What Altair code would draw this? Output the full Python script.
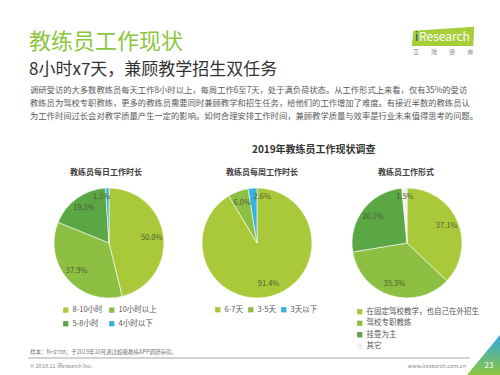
import altair as alt
import pandas as pd

FONT = "Noto Sans CJK SC"

# ---- data -------------------------------------------------------------
daily_cats = ["8-10小时", "10小时以上", "5-8小时", "4小时以下"]
daily_vals = [50.0, 37.9, 19.3, 1.1]

weekly_cats = ["6-7天", "3-5天", "3天以下"]
weekly_vals = [91.4, 6.0, 2.6]

form_cats = ["在固定驾校教学，也自己在外招生", "驾校专职教练", "挂靠为主", "其它"]
form_vals = [37.1, 35.3, 26.1, 1.5]

# ---- palette ----------------------------------------------------------
LIME = "#a9c93a"
GREEN = "#8cbf42"
DARK = "#5ba645"
CYAN = "#36b3dc"
daily_colors = [LIME, GREEN, DARK, CYAN]
weekly_colors = [LIME, GREEN, CYAN]
form_colors = [LIME, GREEN, DARK, "#f0f0f0"]

para_lines = [
    "调研受访的大多数教练员每天工作8小时以上，每周工作6至7天，处于满负荷状态。从工作形式上来看，仅有35%的受访",
    "教练员为驾校专职教练，更多的教练员需要同时兼顾教学和招生任务，给他们的工作增加了难度。有接近半数的教练员认",
    "为工作时间过长会对教学质量产生一定的影响。如何合理安排工作时间，兼顾教学质量与效率是行业未来值得思考的问题。",
]

one = pd.DataFrame({"k": [0]})


def text(t, x, y, size, color="#333333", weight="normal", align="left", **kw):
    return alt.Chart(one).mark_text(
        text=t, font=FONT, fontSize=size, color=color, fontWeight=weight,
        align=align, baseline="middle", **kw
    ).encode(x=alt.value(x), y=alt.value(y))


def pie(cats, vals, colors, cx, cy, legend, last_dx=0):
    """Arc layer plus percentage labels; the thin last slice gets a nudged label."""
    n = len(cats)
    df = pd.DataFrame({
        "cat": cats,
        "val": vals,
        "idx": list(range(n)),
        "label": [f"{v:.1f}%" for v in vals],
    })
    base = alt.Chart(df).encode(
        theta=alt.Theta("val:Q", stack=True),
        order=alt.Order("idx:Q"),
        x=alt.value(cx),
        y=alt.value(cy),
    )
    arcs = base.mark_arc(radius=55, stroke="white", strokeWidth=0.6).encode(
        color=alt.Color(
            "cat:N",
            scale=alt.Scale(domain=cats, range=colors),
            legend=legend,
        )
    )
    style = dict(font=FONT, fontSize=7.5, color="#4e5b36")
    main = base.mark_text(radius=43, **style).encode(
        text=alt.condition(f"datum.idx < {n - 1}", "label:N", alt.value(""))
    )
    tail = base.mark_text(radius=46, dx=last_dx, **style).encode(
        text=alt.condition(f"datum.idx == {n - 1}", "label:N", alt.value(""))
    )
    return [arcs, main, tail]


def leg(x, y, cols, row_pad, col_pad=4, direction="horizontal", grid="each"):
    return alt.Legend(
        title=None, orient="none", legendX=x, legendY=y, columns=cols,
        direction=direction, gridAlign=grid,
        symbolType="square", symbolSize=28, symbolStrokeWidth=0,
        labelFont=FONT, labelFontSize=7.5, labelColor="#555555",
        rowPadding=row_pad, columnPadding=col_pad, labelOffset=3,
        padding=0, labelLimit=200,
    )


layers = []
layers += pie(daily_cats, daily_vals, daily_colors, 109, 243,
              leg(62, 306, 2, 5, 5), last_dx=-6)
layers += pie(weekly_cats, weekly_vals, weekly_colors, 257, 243,
              leg(214, 306, 3, 5, 4, grid="none"), last_dx=9)
layers += pie(form_cats, form_vals, form_colors, 407, 243,
              leg(356, 308, 1, 2.5, 4, "vertical"), last_dx=0)

# headings and body text
layers += [
    text("教练员工作现状", 29, 42, 22, color="#8cc63f"),
    text("8小时x7天，兼顾教学招生双任务", 29, 70, 17, color="#333333"),
    alt.Chart(one).mark_text(
        text=para_lines, font=FONT, fontSize=8.3, color="#595959",
        align="left", baseline="middle", lineHeight=13,
    ).encode(x=alt.value(30), y=alt.value(91)),
    text("2019年教练员工作现状调查", 252, 150, 10, weight="bold"),
    text("教练员每日工作时长", 106, 173, 8, color="#404040", weight="bold", align="center"),
    text("教练员每周工作时长", 262, 173, 8, color="#404040", weight="bold", align="center"),
    text("教练员工作形式", 406, 173, 8, color="#404040", weight="bold", align="center"),
]

# logo
layers += [
    alt.Chart(one).mark_point(
        shape="M -0.95 -0.2 L 1 -0.33 L 0.97 0.29 L -1 0.29 Z",
        size=3900, filled=True, fill="#a6ce39", opacity=1, strokeWidth=0,
    ).encode(x=alt.value(443), y=alt.value(37)),
    text("i", 415, 37, 12, color="#1d3f8f"),
    text("Research", 419, 37, 12, color="white"),
    text("艾　　瑞　　咨　　询", 443, 52, 6, color="#888888", align="center"),
]

# footer
layers += [
    text("样本：N=2788；于2019年10月通过超级教练APP调研获得。", 30, 352, 5.5, color="#777777"),
    alt.Chart(one).mark_rule(color="#a6a6a6", strokeWidth=1).encode(
        x=alt.value(28), x2=alt.value(470), y=alt.value(358)
    ),
    text("© 2019.11 iResearch Inc.", 30, 366, 5.5, color="#888888"),
    text("www.iresearch.com.cn", 466, 366, 5.5, color="#888888", align="right"),
    alt.Chart(one).mark_point(
        shape="M -0.65 1 L 1 -1 L 1 1 Z", size=1600, filled=True, opacity=1,
        strokeWidth=0,
        fill=alt.Gradient(
            gradient="linear", x1=0, y1=1, x2=0, y2=0,
            stops=[alt.GradientStop(color="#8cc63f", offset=0),
                   alt.GradientStop(color="#2fa9e0", offset=1)],
        ),
    ).encode(x=alt.value(480), y=alt.value(355)),
    text("23", 489, 366, 8, color="white", align="center"),
]

chart = alt.layer(*layers).resolve_scale(
    theta="independent", color="independent"
).properties(
    width=500, height=375, autosize=alt.AutoSizeParams(type="none"), padding=0,
    background="white",
).configure_view(stroke=None)

chart.save("out.html", embed_options={"renderer": "svg", "actions": False})
